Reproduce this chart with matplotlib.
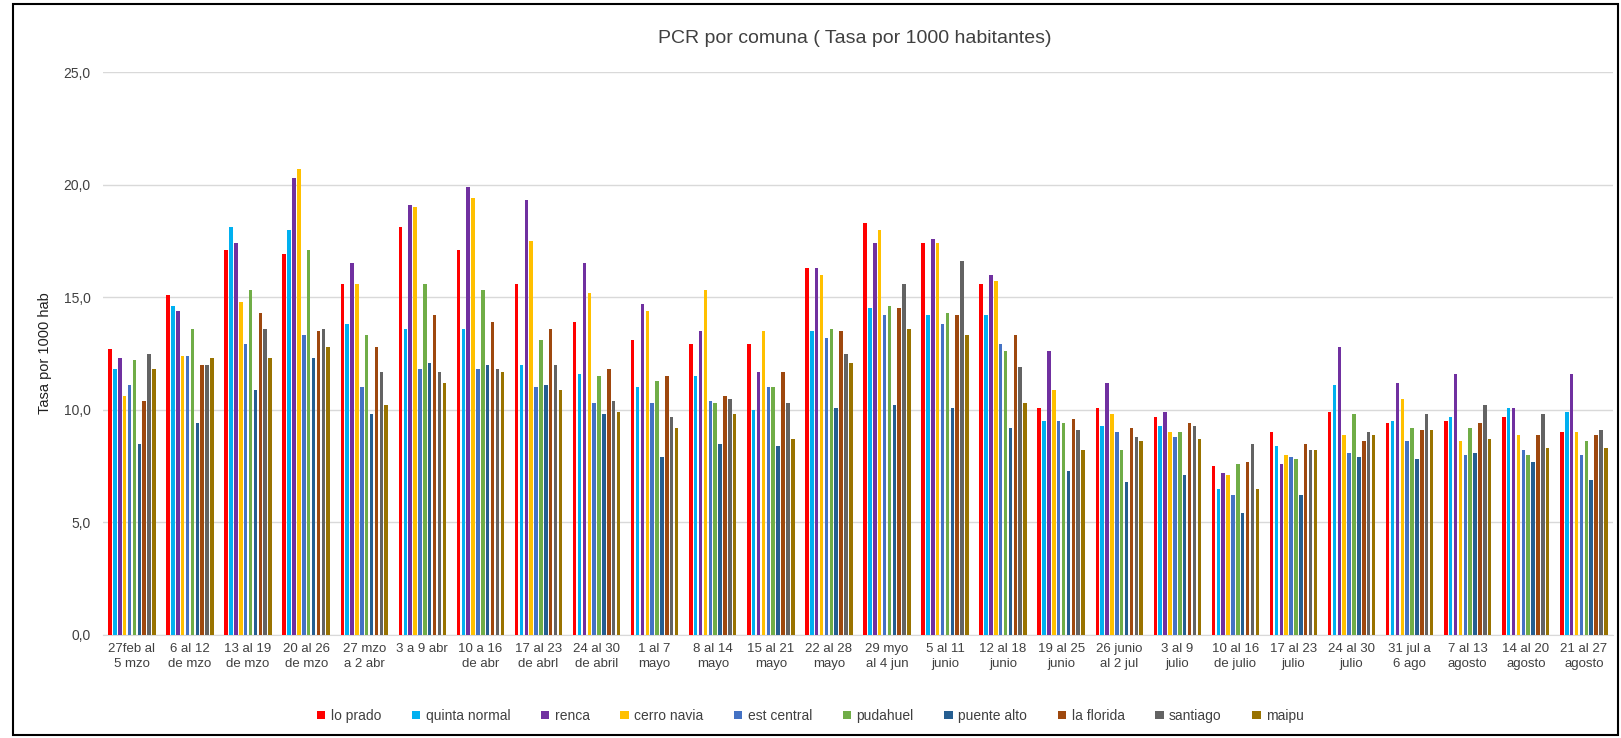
import numpy as np
import matplotlib
matplotlib.use("Agg")
import matplotlib.pyplot as plt
from matplotlib.patches import Rectangle
from matplotlib.ticker import FuncFormatter

plt.rcParams['font.family'] = ['Liberation Sans Narrow', 'Liberation Sans', 'DejaVu Sans']

weeks = ["27feb al\n5 mzo", "6 al 12\nde mzo", "13 al 19\nde mzo", "20 al 26\nde mzo",
         "27 mzo\na 2 abr", "3 a 9 abr\n", "10 a 16\nde abr", "17 al 23\nde abrl",
         "24 al 30\nde abril", "1 al 7\nmayo", "8 al 14\nmayo", "15 al 21\nmayo",
         "22 al 28\nmayo", "29 myo\nal 4 jun", "5 al 11\njunio", "12 al 18\njunio",
         "19 al 25\njunio", "26 junio\nal 2 jul", "3 al 9\njulio", "10 al 16\nde julio",
         "17 al 23\njulio", "24 al 30\njulio", "31 jul a\n6 ago", "7 al 13\nagosto",
         "14 al 20\nagosto", "21 al 27\nagosto"]

comunas = ["lo prado", "quinta normal", "renca", "cerro navia", "est central",
           "pudahuel", "puente alto", "la florida", "santiago", "maipu"]

lo_prado      = [12.7, 15.1, 17.1, 16.9, 15.6, 18.1, 17.1, 15.6, 13.9, 13.1, 12.9, 12.9, 16.3,
                 18.3, 17.4, 15.6, 10.1, 10.1, 9.7, 7.5, 9.0, 9.9, 9.4, 9.5, 9.7, 9.0]
quinta_normal = [11.8, 14.6, 18.1, 18.0, 13.8, 13.6, 13.6, 12.0, 11.6, 11.0, 11.5, 10.0, 13.5,
                 14.5, 14.2, 14.2, 9.5, 9.3, 9.3, 6.5, 8.4, 11.1, 9.5, 9.7, 10.1, 9.9]
renca         = [12.3, 14.4, 17.4, 20.3, 16.5, 19.1, 19.9, 19.3, 16.5, 14.7, 13.5, 11.7, 16.3,
                 17.4, 17.6, 16.0, 12.6, 11.2, 9.9, 7.2, 7.6, 12.8, 11.2, 11.6, 10.1, 11.6]
cerro_navia   = [10.6, 12.4, 14.8, 20.7, 15.6, 19.0, 19.4, 17.5, 15.2, 14.4, 15.3, 13.5, 16.0,
                 18.0, 17.4, 15.7, 10.9, 9.8, 9.0, 7.1, 8.0, 8.9, 10.5, 8.6, 8.9, 9.0]
est_central   = [11.1, 12.4, 12.9, 13.3, 11.0, 11.8, 11.8, 11.0, 10.3, 10.3, 10.4, 11.0, 13.2,
                 14.2, 13.8, 12.9, 9.5, 9.0, 8.8, 6.2, 7.9, 8.1, 8.6, 8.0, 8.2, 8.0]
pudahuel      = [12.2, 13.6, 15.3, 17.1, 13.3, 15.6, 15.3, 13.1, 11.5, 11.3, 10.3, 11.0, 13.6,
                 14.6, 14.3, 12.6, 9.4, 8.2, 9.0, 7.6, 7.8, 9.8, 9.2, 9.2, 8.0, 8.6]
puente_alto   = [8.5, 9.4, 10.9, 12.3, 9.8, 12.1, 12.0, 11.1, 9.8, 7.9, 8.5, 8.4, 10.1,
                 10.2, 10.1, 9.2, 7.3, 6.8, 7.1, 5.4, 6.2, 7.9, 7.8, 8.1, 7.7, 6.9]
la_florida    = [10.4, 12.0, 14.3, 13.5, 12.8, 14.2, 13.9, 13.6, 11.8, 11.5, 10.6, 11.7, 13.5,
                 14.5, 14.2, 13.3, 9.6, 9.2, 9.4, 7.7, 8.5, 8.6, 9.1, 9.4, 8.9, 8.9]
santiago      = [12.5, 12.0, 13.6, 13.6, 11.7, 11.7, 11.8, 12.0, 10.4, 9.7, 10.5, 10.3, 12.5,
                 15.6, 16.6, 11.9, 9.1, 8.8, 9.3, 8.5, 8.2, 9.0, 9.8, 10.2, 9.8, 9.1]
maipu         = [11.8, 12.3, 12.3, 12.8, 10.2, 11.2, 11.7, 10.9, 9.9, 9.2, 9.8, 8.7, 12.1,
                 13.6, 13.3, 10.3, 8.2, 8.6, 8.7, 6.5, 8.2, 8.9, 9.1, 8.7, 8.3, 8.3]

series = [lo_prado, quinta_normal, renca, cerro_navia, est_central,
          pudahuel, puente_alto, la_florida, santiago, maipu]
colors = ["#FF0000", "#00B0F0", "#7030A0", "#FFC000", "#4472C4",
          "#70AD47", "#255E91", "#9E480E", "#636363", "#997300"]

fig = plt.figure(figsize=(16.21, 7.38), dpi=100)
ax = fig.add_axes([0.0635, 0.1396, 0.9315, 0.7628])

x = np.arange(len(weeks))
n = len(series)
slot = 0.084
bw = slot * 0.72
for i, (vals, c, name) in enumerate(zip(series, colors, comunas)):
    ax.bar(x + (i - (n - 1) / 2) * slot, vals, width=bw, color=c, label=name, zorder=3)

ax.set_xlim(-0.5, len(weeks) - 0.5)
ax.set_ylim(0, 25)
ax.set_yticks(np.arange(0, 25.1, 5))
ax.yaxis.set_major_formatter(FuncFormatter(lambda v, p: f"{v:.1f}".replace('.', ',')))
ax.grid(axis='y', color='#D9D9D9', linewidth=1.0, zorder=0)
ax.set_xticks(x)
ax.set_xticklabels(weeks, fontsize=9.5, color='#404040', linespacing=1.35)
ax.tick_params(axis='both', length=0, pad=6)
ax.tick_params(axis='y', labelsize=10, labelcolor='#404040', pad=9)
for s in ax.spines.values():
    s.set_visible(False)
ax.spines['bottom'].set_visible(True)
ax.spines['bottom'].set_color('#D9D9D9')

ax.set_ylabel("Tasa por 1000 hab", fontsize=10.5, color='#202020', labelpad=8)
fig.text(0.5275, 0.948, "PCR por comuna ( Tasa por 1000 habitantes)", ha='center', va='center',
         fontsize=14, color='#404040')

leg = fig.legend(loc='center', bbox_to_anchor=(0.5, 0.03), ncol=10, frameon=False,
                 fontsize=10, handlelength=0.6, handleheight=0.6, columnspacing=2.2,
                 handletextpad=0.4)
for t in leg.get_texts():
    t.set_color('#404040')

fig.patches.append(Rectangle((0.008, 0.004), 0.99, 0.99, transform=fig.transFigure,
                             fill=False, edgecolor='black', linewidth=1.5))

fig.savefig("out.png", dpi=100)
